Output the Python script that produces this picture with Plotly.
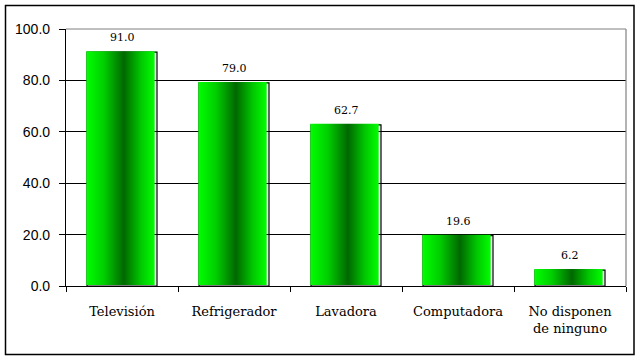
import plotly.graph_objects as go

categories = ["Televisión", "Refrigerador", "Lavadora", "Computadora", "No disponen<br>de ninguno"]
values = [91.0, 79.0, 62.7, 19.6, 6.2]
y_ticks = [0, 20, 40, 60, 80, 100]
y_tick_labels = ["0.0", "20.0", "40.0", "60.0", "80.0", "100.0"]

idx = list(range(len(categories)))
bar_w = 0.61
dx = 1 / 112.0      # ~1 px in x units
dy = 100 / 257.0    # ~1 px in y units

fig = go.Figure()

# gradient-filled bars (one polygon per bar, built from the data)
for i, v in zip(idx, values):
    c = i - 1.5 * dx
    x0, x1 = c - bar_w / 2, c + bar_w / 2
    fig.add_trace(go.Scatter(
        x=[x0, x1, x1, x0, x0],
        y=[1.0 * dy, 1.0 * dy, v + dy, v + dy, 1.0 * dy],
        mode="lines", line=dict(width=0, color="rgba(0,0,0,0)"),
        fill="toself",
        fillgradient=dict(type="horizontal",
                          colorscale=[[0, "#00ff00"], [0.25, "#00d000"], [0.55, "#006800"],
                                      [0.8, "#00c800"], [1, "#00ff00"]]),
        hoverinfo="skip", showlegend=False,
    ))

# black outline (shadow box) of each bar
fig.add_trace(go.Bar(
    x=idx, y=values, width=0.625,
    marker=dict(color="rgba(0,0,0,0)", line=dict(color="black", width=1.2)),
    showlegend=False, hoverinfo="skip",
))

# value labels
for i, v in zip(idx, values):
    fig.add_annotation(x=i, y=v, text=f"{v:.1f}", showarrow=False,
                       yanchor="bottom", yshift=6,
                       font=dict(family="DejaVu Serif", size=11, color="black"))

# plot-area gray top and right edges
fig.add_shape(type="line", xref="x domain", yref="y domain", x0=0, x1=1, y0=1, y1=1,
              line=dict(color="#808080", width=1.2), layer="above")
fig.add_shape(type="line", xref="x domain", yref="y domain", x0=1, x1=1, y0=0, y1=1,
              line=dict(color="#808080", width=1.2), layer="above")

# outer border of the chart
fig.add_shape(type="rect", xref="paper", yref="paper",
              x0=(5.5 - 66) / 560, x1=(634 - 66) / 560,
              y0=(286 - 354.5) / 257, y1=(286 - 5.5) / 257,
              line=dict(color="black", width=1.5), fillcolor="rgba(0,0,0,0)", layer="below")

fig.update_layout(
    width=640, height=360,
    margin=dict(l=66, r=14, t=29, b=74, autoexpand=False),
    paper_bgcolor="white", plot_bgcolor="white",
    showlegend=False,
    font=dict(family="DejaVu Serif", size=13, color="black"),
    xaxis=dict(
        range=[-0.5, 4.5], tickmode="array", tickvals=idx, ticktext=categories,
        ticks="", showgrid=False, zeroline=False, automargin=False,
        showline=True, linecolor="black", linewidth=1.2,
        ticklabelstandoff=13,
        tickfont=dict(family="DejaVu Serif", size=13, color="black"),
        minor=dict(tickmode="array", tickvals=[i - 0.5 for i in idx] + [len(idx) - 0.5],
                   ticks="outside", ticklen=5, tickwidth=1.2, tickcolor="black", showgrid=False),
        fixedrange=True,
    ),
    yaxis=dict(
        range=[0, 100], tickmode="array", tickvals=y_ticks, ticktext=y_tick_labels,
        ticks="outside", ticklen=6, tickwidth=1.2, tickcolor="black",
        showgrid=True, gridcolor="black", gridwidth=1.2,
        zeroline=False, showline=True, linecolor="black", linewidth=1.2,
        ticklabelstandoff=6, automargin=False,
        tickfont=dict(family="Liberation Sans", size=14, color="black"),
        fixedrange=True,
    ),
)

fig.write_html("out.html", config={"displayModeBar": False},
               post_script="document.body.style.margin='0';document.body.style.padding='0';")
